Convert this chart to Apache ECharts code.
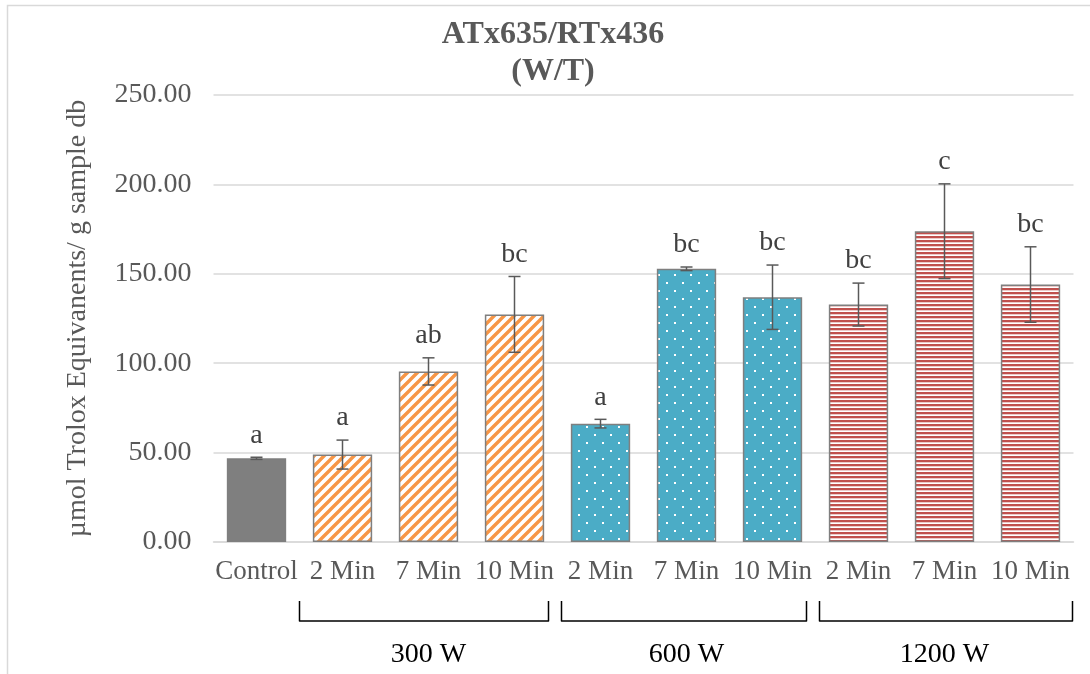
<!DOCTYPE html>
<html>
<head>
<meta charset="utf-8">
<script src="https://cdn.jsdelivr.net/npm/echarts@6/dist/echarts.min.js"></script>
<style>
  html, body { margin: 0; padding: 0; background: #fff; }
  #chart { width: 1090px; height: 674px; }
</style>
</head>
<body>
<div id="chart"></div>
<script>
// data
var categories = ['Control', '2 Min', '7 Min', '10 Min', '2 Min', '7 Min', '10 Min', '2 Min', '7 Min', '10 Min'];
var treatment = ['control', '300', '300', '300', '600', '600', '600', '1200', '1200', '1200'];
var means = [46.8, 48.9, 95.4, 127.3, 66.2, 152.8, 136.9, 132.8, 173.8, 144.0];
var errors = [0.6, 8.1, 7.6, 21.2, 2.4, 1.0, 18.0, 12.0, 26.5, 21.1];
var letters = ['a', 'a', 'ab', 'bc', 'a', 'bc', 'bc', 'bc', 'c', 'bc'];
var powerLabels = ['300 W', '600 W', '1200 W'];
var powerFirst = [1, 4, 7];
var powerLast = [3, 6, 9];

var FONT = '"Liberation Serif", "Times New Roman", serif';

// fill patterns
function tile(w, h, draw) {
  var c = document.createElement('canvas');
  c.width = w; c.height = h;
  draw(c.getContext('2d'));
  return { image: c, repeat: 'repeat' };
}
var fills = {
  control: '#7F7F7F',
  '300': tile(10, 10, function (g) {
    g.fillStyle = '#fff'; g.fillRect(0, 0, 10, 10);
    g.strokeStyle = '#F79646'; g.lineWidth = 3.4;
    g.beginPath();
    g.moveTo(-3, 13); g.lineTo(13, -3);
    g.moveTo(-3, 3); g.lineTo(3, -3);
    g.moveTo(7, 13); g.lineTo(13, 7);
    g.stroke();
  }),
  '600': tile(16, 16, function (g) {
    g.fillStyle = '#4BACC6'; g.fillRect(0, 0, 16, 16);
    g.fillStyle = '#fff';
    g.fillRect(2, 2, 2, 2);
    g.fillRect(10, 10, 2, 2);
  }),
  '1200': tile(4, 4, function (g) {
    g.fillStyle = '#fff'; g.fillRect(0, 0, 4, 4);
    g.fillStyle = '#C0504D'; g.fillRect(0, 0, 4, 2.3);
  })
};

var chart = echarts.init(document.getElementById('chart'));

var option = {
  backgroundColor: '#fff',
  animation: false,
  title: {
    text: 'ATx635/RTx436\n(W/T)',
    left: 548,
    top: 11,
    textAlign: 'center',
    textStyle: { fontFamily: FONT, fontSize: 32, fontWeight: 'bold', color: '#595959', lineHeight: 37 }
  },
  grid: { left: 213.5, right: 16.5, top: 95, bottom: 132, outerBoundsMode: 'none' },
  xAxis: {
    type: 'category',
    data: categories,
    axisLine: { lineStyle: { color: '#D9D9D9', width: 1.5 } },
    axisTick: { show: false },
    axisLabel: { interval: 0, margin: 16, fontFamily: FONT, fontSize: 27, color: '#595959' }
  },
  yAxis: {
    type: 'value',
    min: 0,
    max: 250,
    interval: 50,
    name: 'µmol Trolox Equivanents/ g sample db',
    nameLocation: 'middle',
    nameRotate: 90,
    nameGap: 122,
    nameTextStyle: { fontFamily: FONT, fontSize: 28, color: '#595959' },
    axisLine: { show: false },
    axisTick: { show: false },
    splitLine: { lineStyle: { color: '#D9D9D9', width: 1.5 } },
    axisLabel: {
      margin: 22, fontFamily: FONT, fontSize: 28, color: '#595959',
      formatter: function (v) { return v.toFixed(2); }
    }
  },
  series: [
    {
      type: 'bar',
      barWidth: '69%',
      data: means.map(function (m, i) {
        return { value: m, itemStyle: { color: fills[treatment[i]] } };
      }),
      itemStyle: { borderColor: '#7F7F7F', borderWidth: 1.5 }
    },
    {
      type: 'custom',
      z: 5,
      data: means.map(function (m, i) { return [i, m, errors[i]]; }),
      encode: { x: 0, y: 1 },
      renderItem: function (params, api) {
        var i = api.value(0), m = api.value(1), e = api.value(2);
        var top = api.coord([i, m + e]);
        var bot = api.coord([i, m - e]);
        var cap = 6;
        var st = { stroke: '#595959', lineWidth: 1.5 };
        return {
          type: 'group',
          children: [
            { type: 'line', shape: { x1: top[0], y1: top[1], x2: bot[0], y2: bot[1] }, style: st },
            { type: 'line', shape: { x1: top[0] - cap, y1: top[1], x2: top[0] + cap, y2: top[1] }, style: st },
            { type: 'line', shape: { x1: bot[0] - cap, y1: bot[1], x2: bot[0] + cap, y2: bot[1] }, style: st },
            {
              type: 'text', x: top[0], y: top[1] - 8,
              style: {
                text: letters[params.dataIndex], align: 'center', verticalAlign: 'bottom',
                fontFamily: FONT, fontSize: 28, fill: '#404040'
              }
            }
          ]
        };
      }
    }
  ]
};

chart.setOption(option);

// group brackets and power labels under the axis
var x0 = chart.convertToPixel({ xAxisIndex: 0 }, 0);
var step = chart.convertToPixel({ xAxisIndex: 0 }, 1) - x0;
var gfx = [
  {
    type: 'rect', silent: true, z: -1,
    shape: { x: 7.5, y: 5.5, width: 1100, height: 700 },
    style: { fill: null, stroke: '#D9D9D9', lineWidth: 1.5 }
  }
];
powerLabels.forEach(function (lab, k) {
  var xa = x0 + step * (powerFirst[k] - 0.5) + (k === 0 ? 0 : 4);
  var xb = x0 + step * (powerLast[k] + 0.5) - (k === 2 ? 1 : 9);
  gfx.push({
    type: 'polyline', silent: true,
    shape: { points: [[xa, 601], [xa, 621], [xb, 621], [xb, 601]] },
    style: { fill: null, stroke: '#000', lineWidth: 1.5, lineJoin: 'round' }
  });
  gfx.push({
    type: 'text', silent: true,
    x: x0 + step * (powerFirst[k] + powerLast[k]) / 2, y: 655,
    style: { text: lab, align: 'center', verticalAlign: 'middle', fontFamily: FONT, fontSize: 28, fill: '#000' }
  });
});
chart.setOption({ graphic: gfx });
</script>
</body>
</html>
